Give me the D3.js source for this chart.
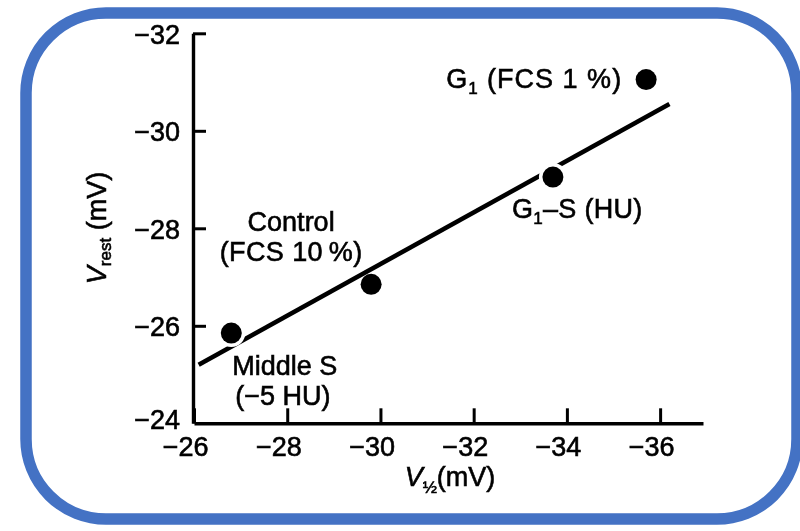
<!DOCTYPE html>
<html>
<head>
<meta charset="utf-8">
<script src="https://cdn.jsdelivr.net/npm/d3@7"></script>
<style>
  html, body { margin: 0; padding: 0; background: #ffffff; }
  svg { display: block; }
  text { font-family: "Liberation Sans", Arial, Helvetica, sans-serif; fill: #000; stroke: #000; stroke-width: 0.6px; }
</style>
</head>
<body>
<svg id="chart" width="800" height="531"></svg>
<script>
// Cell-cycle stages: half-activation voltage vs resting potential
const stages   = ["Middle S", "Control", "G1-S", "G1"];
const vHalf    = [-26.8, -29.8, -33.7, -35.7];    // V½ (mV)
const vRest    = [-25.85, -26.85, -29.05, -31.05]; // Vrest (mV)
// Regression line end points
const fitX     = [-26.1, -36.2];
const fitY     = [-25.2, -30.55];
// Axis ticks
const xTicks   = [-26, -28, -30, -32, -34, -36];
const yTicks   = [-24, -26, -28, -30, -32];

const svg = d3.select("#chart");

// Soft print edge for the figure content
svg.append("defs").append("filter").attr("id", "soft")
  .append("feGaussianBlur").attr("stdDeviation", 0.45);

// Rounded frame
svg.append("rect")
  .attr("x", 26).attr("y", 13)
  .attr("width", 771).attr("height", 506)
  .attr("rx", 80).attr("ry", 80)
  .attr("fill", "#ffffff")
  .attr("stroke", "#4472C4")
  .attr("stroke-width", 11.5);

const plot = svg.append("g").attr("filter", "url(#soft)");

const x = d3.scaleLinear().domain([-26, -36.92]).range([194, 703]);
const y = d3.scaleLinear().domain([-24, -32]).range([423.3, 33.3]);

const minus = v => (v < 0 ? "\u2212" + Math.abs(v) : String(v));

// X axis, ticks pointing inward
const xAxis = plot.append("g")
  .attr("transform", `translate(0,${y(-24)})`)
  .call(d3.axisBottom(x).tickValues(xTicks).tickSizeInner(-15).tickSizeOuter(0).tickFormat(minus));
xAxis.select(".domain").attr("stroke", "#000").attr("stroke-width", 3.4);
xAxis.selectAll(".tick line").attr("stroke", "#000").attr("stroke-width", 3);
xAxis.selectAll(".tick text")
  .attr("font-size", 27).attr("fill", "#000")
  .attr("text-anchor", "end").attr("x", 14).attr("y", 0).attr("dy", 33);

// Y axis, ticks pointing inward
const yAxis = plot.append("g")
  .attr("transform", `translate(${x(-26) - 1},0)`)
  .call(d3.axisLeft(y).tickValues(yTicks).tickSizeInner(-13).tickSizeOuter(0).tickFormat(minus));
yAxis.select(".domain").attr("stroke", "#000").attr("stroke-width", 3.4);
yAxis.selectAll(".tick line").attr("stroke", "#000").attr("stroke-width", 3);
yAxis.selectAll(".tick text")
  .attr("font-size", 27).attr("fill", "#000")
  .attr("text-anchor", "end").attr("x", -13).attr("dy", "0.36em");
const bottomTick = yAxis.selectAll(".tick").filter(d => d === -24);
bottomTick.select("line").remove();
bottomTick.select("text").attr("dy", "0.2em");

// Axis titles
const xt = plot.append("text")
  .attr("x", 450).attr("y", 486)
  .attr("text-anchor", "middle").attr("font-size", 27);
xt.append("tspan").attr("font-style", "italic").text("V");
xt.append("tspan").attr("font-size", 17).attr("dy", 7).text("\u00BD");
xt.append("tspan").attr("dy", -7).text("(mV)");

const yt = plot.append("text")
  .attr("transform", "translate(106,228) rotate(-90)")
  .attr("text-anchor", "middle").attr("font-size", 27);
yt.append("tspan").attr("font-style", "italic").text("V");
yt.append("tspan").attr("font-size", 17).attr("dy", 5).text("rest");
yt.append("tspan").attr("dy", -5).text(" (mV)");

const pts = stages.map((s, i) => ({ s, x: x(vHalf[i]), y: y(vRest[i]) }));

// Points lying under the line (no knock-out)
const underLine = [false, true, false, false];
plot.selectAll("circle.under")
  .data(pts.filter((d, i) => underLine[i]))
  .join("circle")
  .attr("cx", d => d.x).attr("cy", d => d.y).attr("r", 10.5).attr("fill", "#000");

// Regression line
plot.append("path")
  .datum(fitX.map((v, i) => [v, fitY[i]]))
  .attr("d", d3.line().x(d => x(d[0])).y(d => y(d[1])))
  .attr("stroke", "#000").attr("stroke-width", 4.5).attr("fill", "none");

// Remaining points with white knock-out around them
const over = pts.filter((d, i) => !underLine[i]);
plot.selectAll("circle.halo").data(over).join("circle")
  .attr("cx", d => d.x).attr("cy", d => d.y).attr("r", 14).attr("fill", "#fff");
plot.selectAll("circle.dot").data(over).join("circle")
  .attr("cx", d => d.x).attr("cy", d => d.y).attr("r", 10.5).attr("fill", "#000");

// Point annotations
const fs = 27;
function sub(t, main, subTxt, rest) {
  t.append("tspan").text(main);
  t.append("tspan").attr("font-size", 17).attr("dy", 6).text(subTxt);
  t.append("tspan").attr("dy", -6).text(rest);
}
const p = Object.fromEntries(pts.map(d => [d.s, d]));

const g1 = plot.append("text").attr("font-size", fs).attr("text-anchor", "end")
  .attr("letter-spacing", 1)
  .attr("x", p["G1"].x - 24).attr("y", p["G1"].y + 8);
sub(g1, "G", "1", " (FCS 1 %)");

const g1s = plot.append("text").attr("font-size", fs).attr("letter-spacing", 0.3)
  .attr("x", p["G1-S"].x - 41).attr("y", p["G1-S"].y + 41);
sub(g1s, "G", "1", "\u2013S (HU)");

plot.append("text").attr("font-size", fs).attr("text-anchor", "middle")
  .attr("x", p["Control"].x - 80).attr("y", p["Control"].y - 53).text("Control");
plot.append("text").attr("font-size", fs).attr("text-anchor", "middle").attr("letter-spacing", 0.4)
  .attr("x", p["Control"].x - 80).attr("y", p["Control"].y - 23).text("(FCS 10\u2009%)");

plot.append("text").attr("font-size", fs)
  .attr("x", p["Middle S"].x + 1).attr("y", p["Middle S"].y + 42).text("Middle S");
plot.append("text").attr("font-size", fs)
  .attr("x", p["Middle S"].x + 4).attr("y", p["Middle S"].y + 72).text("(\u22125 HU)");
</script>
</body>
</html>
